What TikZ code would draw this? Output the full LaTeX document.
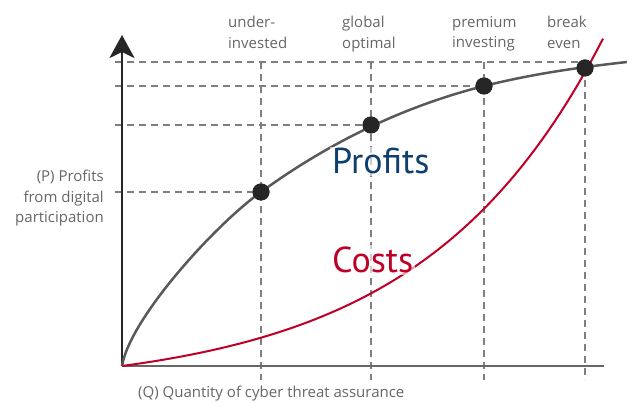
\documentclass[tikz,border=0pt]{standalone}
\usepackage{fontspec}
\setmainfont{PT Sans}
\newfontfamily\labelfont{Open Sans}
\usetikzlibrary{arrows.meta}

\definecolor{profitblue}{HTML}{0F3F6E}
\definecolor{costred}{HTML}{BE0027}
\definecolor{guidegray}{HTML}{7F7F7F}
\definecolor{labelgray}{HTML}{666666}

\begin{document}
\begin{tikzpicture}[x=1pt,y=-1pt,
  guide/.style={draw=guidegray,line width=2pt,dash pattern=on 7pt off 5pt},
  dot/.style={circle,fill=black!85,inner sep=0pt,minimum size=17pt},
  lbl/.style={text=labelgray,font=\labelfont\fontsize{15}{20.5}\selectfont,inner sep=0pt},
  big/.style={font=\fontsize{36}{40}\selectfont,fill=white,fill opacity=0.6,text opacity=1,inner sep=2pt}]

  \useasboundingbox (0,0) rectangle (627,403);

  \coordinate (O) at (122,366);
  \coordinate (top) at (122,35);
  \coordinate (xend) at (604,366);
  \coordinate (lefttop) at (115,62);
  \coordinate (bottom) at (122,380);

  % points on the profit curve
  \node[dot] (under) at (261,192) {};
  \node[dot] (optimal) at (371,125) {};
  \node[dot] (premium) at (484,86) {};
  \node[dot] (breakeven) at (585,68) {};

  % guide lines
  \draw[guide] (lefttop) -- (breakeven.center |- lefttop);
  \draw[guide] (premium -| lefttop) -- (premium.center);
  \draw[guide] (optimal -| lefttop) -- (optimal.center);
  \draw[guide] (under -| lefttop) -- (under.center);
  \draw[guide] (under |- lefttop) -- (under |- bottom);
  \draw[guide] (optimal |- lefttop) -- (optimal |- bottom);
  \draw[guide] (premium |- lefttop) -- (premium |- bottom);
  \draw[guide] (breakeven.center) -- (breakeven |- bottom);

  % axes
  \draw[line width=2.5pt,draw=black!60] (O) -- (xend);
  \draw[line width=2.8pt,draw=black!85,-{Stealth[length=23pt,width=25pt,inset=6pt]}] (O) -- (top);

  % curves
  \draw[line width=2.5pt,draw=black!65] (O) .. controls (130,318) and (216,224) .. (under.center)
    .. controls (334,139) and (409,105) .. (premium.center)
    .. controls (534,73.5) and (582,67) .. (627,62);
  \draw[line width=2pt,draw=costred] plot[domain=0:481,samples=80] ({122+\x},{366-24.3*(exp(\x/180)-1)});

  % big labels
  \node[big,text=profitblue,anchor=base west] (profits) at (330,174) {Profits};
  \node[big,text=costred,anchor=base west] (costs) at (330,273) {Costs};

  % redraw the dots on top
  \foreach \p in {under,optimal,premium,breakeven}
    \fill[black!85] (\p) circle (8.5pt);

  % axis and point labels
  \node[lbl,align=left,anchor=north west] (underlbl) at (228,16) {under-\\invested};
  \node[lbl,align=left,anchor=north west] (optimallbl) at (342,16) {global\\optimal};
  \node[lbl,align=left,anchor=north west] (premiumlbl) at (452,16) {premium\\investing};
  \node[lbl,align=left,anchor=north west] (breaklbl) at (547,16) {break\\even};
  \node[lbl,align=right,anchor=north east] (ylbl) at (104,170) {(P) Profits\\from digital\\participation};
  \node[lbl,anchor=west] (xlbl) at (138,394) {(Q) Quantity of cyber threat assurance};
\end{tikzpicture}
\end{document}
